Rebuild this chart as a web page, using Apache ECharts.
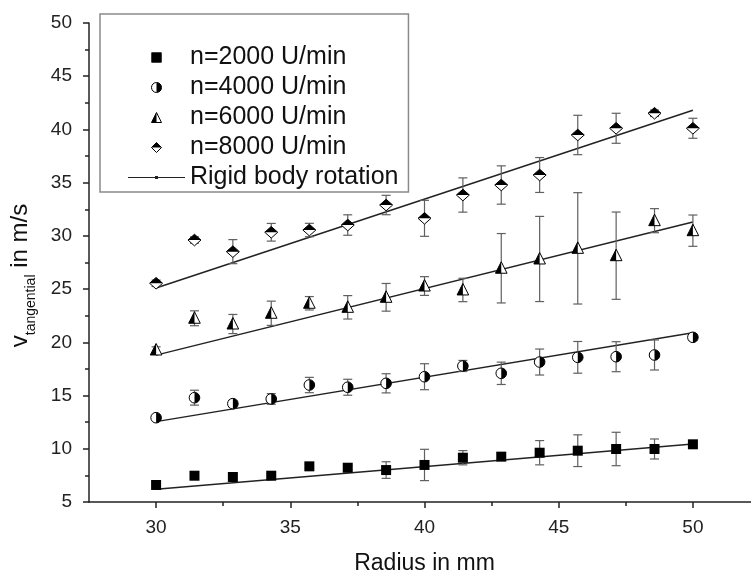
<!DOCTYPE html>
<html>
<head>
<meta charset="utf-8">
<script src="https://cdn.jsdelivr.net/npm/echarts@6/dist/echarts.min.js"></script>
<style>
html,body{margin:0;padding:0;background:#fff;}
#chart{width:751px;height:574px;}
</style>
</head>
<body>
<div id="chart"></div>
<script>
// ---- data ----
const radius = [30, 31.43, 32.86, 34.29, 35.71, 37.14, 38.57, 40, 41.43, 42.86, 44.29, 45.71, 47.14, 48.57, 50];
const v2000 = [6.6, 7.47, 7.35, 7.47, 8.35, 8.22, 8.0, 8.48, 9.16, 9.26, 9.63, 9.82, 9.98, 9.98, 10.42];
const e2000 = [0.2, 0.2, 0.2, 0.2, 0.2, 0.2, 0.78, 1.47, 0.67, 0.35, 1.14, 1.49, 1.57, 0.94, 0.2];
const v4000 = [12.92, 14.8, 14.24, 14.68, 15.99, 15.78, 16.15, 16.77, 17.78, 17.09, 18.15, 18.59, 18.65, 18.81, 20.47];
const e4000 = [0.2, 0.7, 0.3, 0.5, 0.72, 0.75, 0.9, 1.22, 0.52, 1.05, 1.22, 1.49, 1.41, 1.41, 0.3];
const v6000 = [19.28, 22.26, 21.72, 22.73, 23.67, 23.29, 24.23, 25.29, 24.92, 26.96, 27.83, 28.83, 28.14, 31.43, 30.49];
const e6000 = [0.3, 0.7, 0.9, 1.14, 0.63, 1.1, 1.3, 0.88, 1.1, 3.26, 4.0, 5.23, 4.1, 1.13, 1.47];
const v8000 = [25.55, 29.61, 28.52, 30.34, 30.55, 31.02, 32.9, 31.65, 33.84, 34.78, 35.72, 39.48, 40.11, 41.52, 40.11];
const e8000 = [0.3, 0.3, 1.13, 0.83, 0.63, 0.96, 0.91, 1.69, 1.61, 1.8, 1.64, 1.85, 1.41, 0.3, 0.94];

const rigidR = [30, 50];
const rigid2000 = [6.2, 10.45];
const rigid4000 = [12.55, 20.9];
const rigid6000 = [18.8, 31.3];
const rigid8000 = [25.1, 41.8];

const seriesNames = ['n=2000 U/min', 'n=4000 U/min', 'n=6000 U/min', 'n=8000 U/min'];
const rigidName = 'Rigid body rotation';
const xMajorTicks = [30, 35, 40, 45, 50];
const xMinorTicks = [32.5, 37.5, 42.5, 47.5];
const xTitle = 'Radius in mm';

// ---- drawing ----
const FONT = '"Liberation Sans", Arial, sans-serif';
const chart = echarts.init(document.getElementById('chart'), null, {renderer: 'canvas'});

function zip(xs, ys, es) { return xs.map((x, i) => es ? [x, ys[i], es[i]] : [x, ys[i]]); }

function markerRender(kind) {
  return function (params, api) {
    const x = api.value(0), y = api.value(1), e = api.value(2);
    const p = api.coord([x, y]);
    const pt = api.coord([x, y + e]);
    const pb = api.coord([x, y - e]);
    const cx = p[0], cy = p[1];
    const cap = 4.5;
    const eb = {stroke: '#606060', lineWidth: 1.2};
    const ch = [
      {type: 'line', shape: {x1: cx, y1: pt[1], x2: cx, y2: pb[1]}, style: eb},
      {type: 'line', shape: {x1: cx - cap, y1: pt[1], x2: cx + cap, y2: pt[1]}, style: eb},
      {type: 'line', shape: {x1: cx - cap, y1: pb[1], x2: cx + cap, y2: pb[1]}, style: eb}
    ];
    const outline = {fill: '#fff', stroke: '#000', lineWidth: 1};
    const black = {fill: '#000'};
    if (kind === 'square') {
      ch.push({type: 'rect', shape: {x: cx - 5, y: cy - 5, width: 10, height: 10}, style: {fill: '#000'}});
    } else if (kind === 'circle') {
      ch.push({type: 'circle', shape: {cx: cx, cy: cy, r: 5.3}, style: outline});
      ch.push({type: 'sector', shape: {cx: cx, cy: cy, r0: 0, r: 5.3, startAngle: -Math.PI / 2, endAngle: Math.PI / 2, clockwise: true}, style: black});
    } else if (kind === 'triangle') {
      const t = cy - 6.5, b = cy + 5, w = 5.8;
      ch.push({type: 'polygon', shape: {points: [[cx, t], [cx + w, b], [cx - w, b]]}, style: outline});
      ch.push({type: 'polygon', shape: {points: [[cx, t], [cx, b], [cx - w, b]]}, style: black});
    } else if (kind === 'diamond') {
      const h = 5.8, w = 6.5;
      ch.push({type: 'polygon', shape: {points: [[cx, cy - h], [cx + w, cy], [cx, cy + h], [cx - w, cy]]}, style: outline});
      ch.push({type: 'polygon', shape: {points: [[cx - w, cy], [cx, cy - h], [cx + w, cy]]}, style: black});
    }
    return {type: 'group', children: ch};
  };
}

// legend icons (drawn in a 57 x 10 icon box)
const CORNERS = 'M0,0 L0.01,0 L0,0.01 Z M57,10 L56.99,10 L57,9.99 Z ';
const P = {
  square: 'path://M0,0 L10,0 L10,10 L0,10 Z',
  circleFull: 'path://M5,0 A5,5 0 1 1 5,10 A5,5 0 1 1 5,0 Z',
  triFull: 'path://M5,0 L10,10 L0,10 Z',
  diaFull: 'path://M5,0 L10,5 L5,10 L0,5 Z',
  squareB: 'path://' + CORNERS + 'M23.5,0 L33.5,0 L33.5,10 L23.5,10 Z',
  circleHalf: 'path://' + CORNERS + 'M28.5,0 A5,5 0 0 1 28.5,10 Z',
  triHalf: 'path://' + CORNERS + 'M28.5,0 L28.5,10 L23.5,10 Z',
  diaHalf: 'path://' + CORNERS + 'M23.5,5 L28.5,0 L33.5,5 Z',
  rigid: 'path://' + CORNERS + 'M0,4.4 L57,4.4 L57,5.6 L0,5.6 Z M27,3.5 L30,3.5 L30,6.5 L27,6.5 Z'
};

const legendCommon = {
  orient: 'vertical', left: 100, top: 14, padding: [31, 10, 2, 28],
  itemWidth: 57, itemHeight: 10, itemGap: 5, selectedMode: false
};
const outlineStyle = {color: '#fff', borderColor: '#000', borderWidth: 1};

const option = {
  animation: false,
  backgroundColor: '#fff',
  grid: {left: 89, right: -9, top: 23, bottom: 72, containLabel: false, outerBoundsMode: 'none'},
  xAxis: [{
    type: 'value', min: 27.5, max: 52.5,
    name: xTitle, nameLocation: 'middle', nameGap: 50,
    nameTextStyle: {fontFamily: FONT, fontSize: 23, color: '#111'},
    axisLine: {show: true, onZero: false, lineStyle: {color: '#222', width: 1.5}},
    axisTick: {show: true, customValues: xMajorTicks, length: 6, lineStyle: {color: '#222', width: 1.5}},
    axisLabel: {show: true, customValues: xMajorTicks, margin: 16, fontFamily: FONT, fontSize: 19, color: '#222'},
    splitLine: {show: false}
  }, {
    type: 'value', min: 27.5, max: 52.5, position: 'bottom',
    axisLine: {show: false},
    axisTick: {show: true, customValues: xMinorTicks, length: 4, lineStyle: {color: '#222', width: 1.5}},
    axisLabel: {show: false},
    splitLine: {show: false}
  }],
  yAxis: {
    type: 'value', min: 5, max: 50, interval: 5,
    name: '{v|v}{s|tangential}{v| in m/s}', nameLocation: 'middle', nameGap: 51,
    nameTextStyle: {
      color: '#111', padding: [0, 26, 0, 0],
      rich: {
        v: {fontFamily: FONT, fontSize: 24, color: '#111', verticalAlign: 'top'},
        s: {fontFamily: FONT, fontSize: 14, color: '#111', verticalAlign: 'top', padding: [16, 0, 0, 0]}
      }
    },
    axisLine: {show: true, onZero: false, lineStyle: {color: '#222', width: 1.5}},
    axisTick: {show: true, length: 6, lineStyle: {color: '#222', width: 1.5}},
    minorTick: {show: true, splitNumber: 2, length: 4, lineStyle: {color: '#222', width: 1.5}},
    axisLabel: {margin: 17, fontFamily: FONT, fontSize: 19, color: '#222'},
    splitLine: {show: false}
  },
  legend: [
    Object.assign({}, legendCommon, {
      borderColor: '#8a8a8a', borderWidth: 1.5,
      textStyle: {fontFamily: FONT, fontSize: 25, lineHeight: 24, color: '#111'},
      data: [
        {name: seriesNames[0], icon: P.square, itemStyle: {color: '#000', borderWidth: 0}},
        {name: seriesNames[1], icon: P.circleFull, itemStyle: outlineStyle},
        {name: seriesNames[2], icon: P.triFull, itemStyle: outlineStyle},
        {name: seriesNames[3], icon: P.diaFull, itemStyle: outlineStyle},
        {name: rigidName, icon: P.rigid, itemStyle: {color: '#222', borderWidth: 0}}
      ]
    }),
    Object.assign({}, legendCommon, {
      textStyle: {fontFamily: FONT, fontSize: 25, lineHeight: 24, color: 'rgba(0,0,0,0)'},
      data: [
        {name: seriesNames[0], icon: P.squareB, itemStyle: {color: '#000', borderWidth: 0}},
        {name: seriesNames[1], icon: P.circleHalf, itemStyle: {color: '#000', borderWidth: 0}},
        {name: seriesNames[2], icon: P.triHalf, itemStyle: {color: '#000', borderWidth: 0}},
        {name: seriesNames[3], icon: P.diaHalf, itemStyle: {color: '#000', borderWidth: 0}}
      ]
    })
  ],
  series: [
    {name: rigidName, type: 'line', data: zip(rigidR, rigid2000), showSymbol: false, symbol: 'circle', lineStyle: {color: '#222', width: 1.5}, itemStyle: {color: '#222'}, z: 1},
    {name: rigidName, type: 'line', data: zip(rigidR, rigid4000), showSymbol: false, symbol: 'circle', lineStyle: {color: '#222', width: 1.5}, itemStyle: {color: '#222'}, z: 1},
    {name: rigidName, type: 'line', data: zip(rigidR, rigid6000), showSymbol: false, symbol: 'circle', lineStyle: {color: '#222', width: 1.5}, itemStyle: {color: '#222'}, z: 1},
    {name: rigidName, type: 'line', data: zip(rigidR, rigid8000), showSymbol: false, symbol: 'circle', lineStyle: {color: '#222', width: 1.5}, itemStyle: {color: '#222'}, z: 1},
    {name: seriesNames[0], type: 'custom', renderItem: markerRender('square'), data: zip(radius, v2000, e2000), itemStyle: {color: '#000'}, encode: {x: 0, y: 1}, z: 3},
    {name: seriesNames[1], type: 'custom', renderItem: markerRender('circle'), data: zip(radius, v4000, e4000), itemStyle: {color: '#000'}, encode: {x: 0, y: 1}, z: 3},
    {name: seriesNames[2], type: 'custom', renderItem: markerRender('triangle'), data: zip(radius, v6000, e6000), itemStyle: {color: '#000'}, encode: {x: 0, y: 1}, z: 3},
    {name: seriesNames[3], type: 'custom', renderItem: markerRender('diamond'), data: zip(radius, v8000, e8000), itemStyle: {color: '#000'}, encode: {x: 0, y: 1}, z: 3}
  ]
};
chart.setOption(option);
</script>
</body>
</html>
